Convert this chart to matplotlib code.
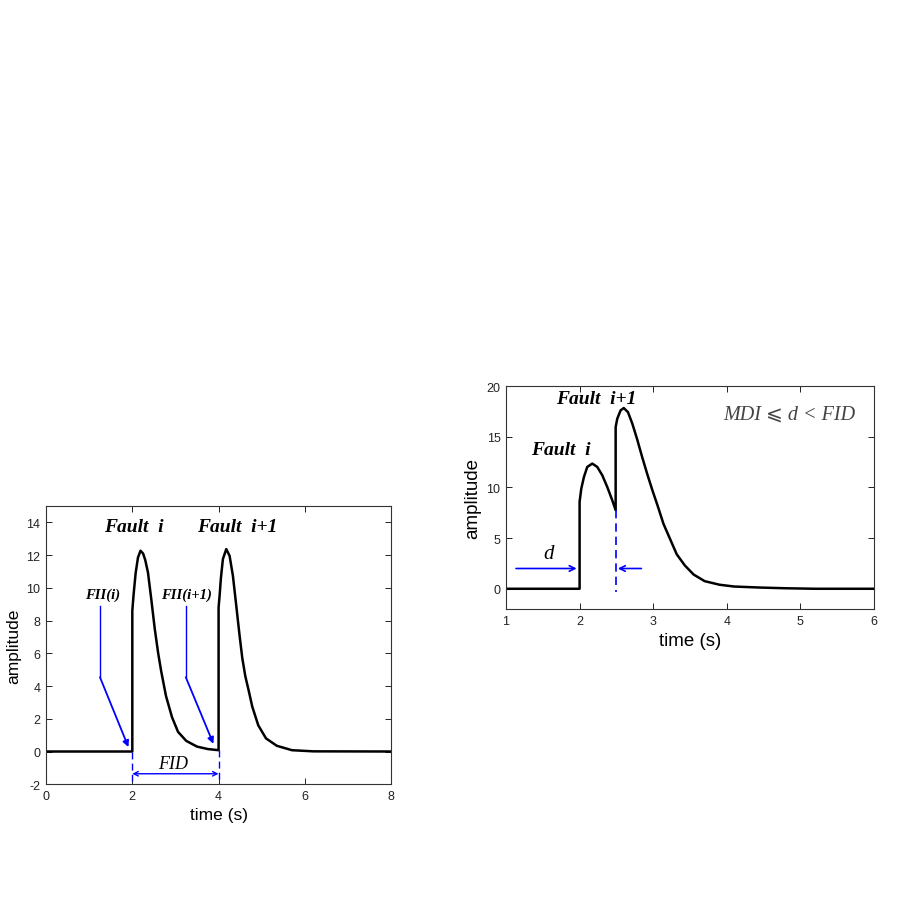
import matplotlib
matplotlib.use("Agg")
import matplotlib.pyplot as plt

# left chart: two separate fault pulses
left_t = [0.0, 2.0, 2.0, 2.0, 2.03, 2.077, 2.131, 2.19, 2.25, 2.30, 2.363, 2.44,
          2.52, 2.60, 2.67, 2.78, 2.92, 3.06, 3.25, 3.50, 3.75,
          4.0, 4.0, 4.0, 4.023, 4.054, 4.10, 4.178, 4.255, 4.332, 4.41, 4.487,
          4.55, 4.62, 4.70, 4.78, 4.92, 5.10, 5.35, 5.70, 6.20, 8.0]
left_amp = [0.0, 0.0, 4.25, 8.6, 9.6, 10.9, 11.85, 12.27, 12.1, 11.7, 10.94, 9.3,
            7.5, 6.0, 4.9, 3.4, 2.1, 1.2, 0.65, 0.3, 0.15,
            0.08, 4.2, 8.8, 9.5, 10.6, 11.76, 12.37, 11.96, 10.74, 8.91, 7.08,
            5.7, 4.6, 3.7, 2.75, 1.6, 0.8, 0.35, 0.08, 0.01, 0.0]

# right chart: second fault arrives before the first has died out
right_t = [1.0, 2.0, 2.0, 2.0, 2.023, 2.059, 2.104, 2.172, 2.24, 2.308, 2.376,
           2.444, 2.49, 2.49, 2.512, 2.557, 2.60, 2.657, 2.716, 2.78, 2.85, 2.92,
           2.99, 3.06, 3.14, 3.23, 3.32, 3.43, 3.55, 3.70, 3.90, 4.10, 4.45, 4.80,
           5.20, 6.0]
right_amp = [0.0, 0.0, 4.1, 8.57, 9.88, 11.03, 12.02, 12.35, 12.02, 11.2, 10.04,
             8.73, 7.75, 15.96, 16.78, 17.6, 17.83, 17.43, 16.3, 14.8, 13.0, 11.3,
             9.7, 8.2, 6.4, 4.9, 3.4, 2.3, 1.4, 0.75, 0.4, 0.22, 0.12, 0.05,
             0.0, 0.0]

left_xticks = [0, 2, 4, 6, 8]
left_yticks = [-2, 0, 2, 4, 6, 8, 10, 12, 14]
right_xticks = [1, 2, 3, 4, 5, 6]
right_yticks = [0, 5, 10, 15, 20]

serif = ["Liberation Serif", "DejaVu Serif", "DejaVu Sans"]
sans = ["Liberation Sans", "DejaVu Sans"]
blue = "#0000ff"

plt.rcParams["font.family"] = sans
plt.rcParams["axes.unicode_minus"] = False

fig = plt.figure(figsize=(9.01, 9.12), dpi=100)
ax1 = fig.add_axes([0.0511, 0.139, 0.383, 0.305])
ax2 = fig.add_axes([0.5616, 0.3311, 0.4084, 0.2445])


def style_axes(ax, xt, yt, xlim, ylim, tick_fs, label_fs):
    ax.set_xlim(*xlim)
    ax.set_ylim(*ylim)
    ax.set_xticks(xt)
    ax.set_yticks(yt)
    ax.tick_params(direction="in", top=True, right=True, length=4, width=0.7,
                   labelsize=tick_fs, colors="#222222", pad=4)
    for s in ax.spines.values():
        s.set_linewidth(0.8)
        s.set_color("#333333")
    ax.set_xlabel("time (s)", fontsize=label_fs, labelpad=4)
    ax.set_ylabel("amplitude", fontsize=label_fs, labelpad=4)


# ---- left chart
ax1.plot(left_t, left_amp, color="black", lw=1.8, solid_joinstyle="round")
style_axes(ax1, left_xticks, left_yticks, (0, 8), (-2, 15), 9, 12.5)

ax1.text(2.04, 13.77, "Fault  i", family=serif, fontsize=14, fontweight="bold",
         style="italic", ha="center", va="center")
ax1.text(4.43, 13.77, "Fault  i+1", family=serif, fontsize=14, fontweight="bold",
         style="italic", ha="center", va="center")
ax1.text(1.30, 9.62, "FII(i)", family=serif, fontsize=10.5, fontweight="bold",
         style="italic", ha="center", va="center")
ax1.text(3.26, 9.62, "FII(i+1)", family=serif, fontsize=10.5, fontweight="bold",
         style="italic", ha="center", va="center")

# pointer lines to the fault start instants
ax1.plot([1.25, 1.25], [8.87, 4.54], color=blue, lw=1)
ax1.annotate("", xy=(1.91, 0.27), xytext=(1.25, 4.54),
             arrowprops=dict(arrowstyle="-|>", color=blue, lw=1.3,
                             mutation_scale=9, shrinkA=0, shrinkB=0))
ax1.plot([3.24, 3.24], [8.87, 4.54], color=blue, lw=1)
ax1.annotate("", xy=(3.88, 0.47), xytext=(3.24, 4.54),
             arrowprops=dict(arrowstyle="-|>", color=blue, lw=1.3,
                             mutation_scale=9, shrinkA=0, shrinkB=0))

ax1.plot([2, 2], [0, -2], color=blue, lw=1, ls=(0, (5, 3)))
ax1.plot([4, 4], [0.1, -2], color=blue, lw=1, ls=(0, (5, 3)))
ax1.annotate("", xy=(2.0, -1.36), xytext=(4.0, -1.36),
             arrowprops=dict(arrowstyle="<->", color=blue, lw=1,
                             mutation_scale=8, shrinkA=0, shrinkB=0))
ax1.text(2.95, -0.72, "FID", family=serif, fontsize=13, style="italic",
         ha="center", va="center")

# ---- right chart
ax2.plot(right_t, right_amp, color="black", lw=1.8, solid_joinstyle="round")
style_axes(ax2, right_xticks, right_yticks, (1, 6), (-2, 20), 9, 13.5)

ax2.text(2.22, 18.8, "Fault  i+1", family=serif, fontsize=14, fontweight="bold",
         style="italic", ha="center", va="center")
ax2.text(1.75, 13.7, "Fault  i", family=serif, fontsize=14, fontweight="bold",
         style="italic", ha="center", va="center")
ax2.text(4.85, 17.27, "MDI \u2a7d d < FID", family=serif, fontsize=14.5,
         style="italic", ha="center", va="center", color="#444444")
ax2.text(1.575, 3.48, "d", family=serif, fontsize=15, style="italic",
         ha="center", va="center")

ax2.annotate("", xy=(1.96, 2.0), xytext=(1.136, 2.0),
             arrowprops=dict(arrowstyle="->", color=blue, lw=1.2,
                             mutation_scale=10, shrinkA=0, shrinkB=0))
ax2.annotate("", xy=(2.52, 2.0), xytext=(2.84, 2.0),
             arrowprops=dict(arrowstyle="->", color=blue, lw=1.2,
                             mutation_scale=10, shrinkA=0, shrinkB=0))
ax2.plot([2.49, 2.49], [7.75, -0.3], color=blue, lw=1.2, ls=(0, (5, 3)))

fig.savefig("out.png", dpi=100)
